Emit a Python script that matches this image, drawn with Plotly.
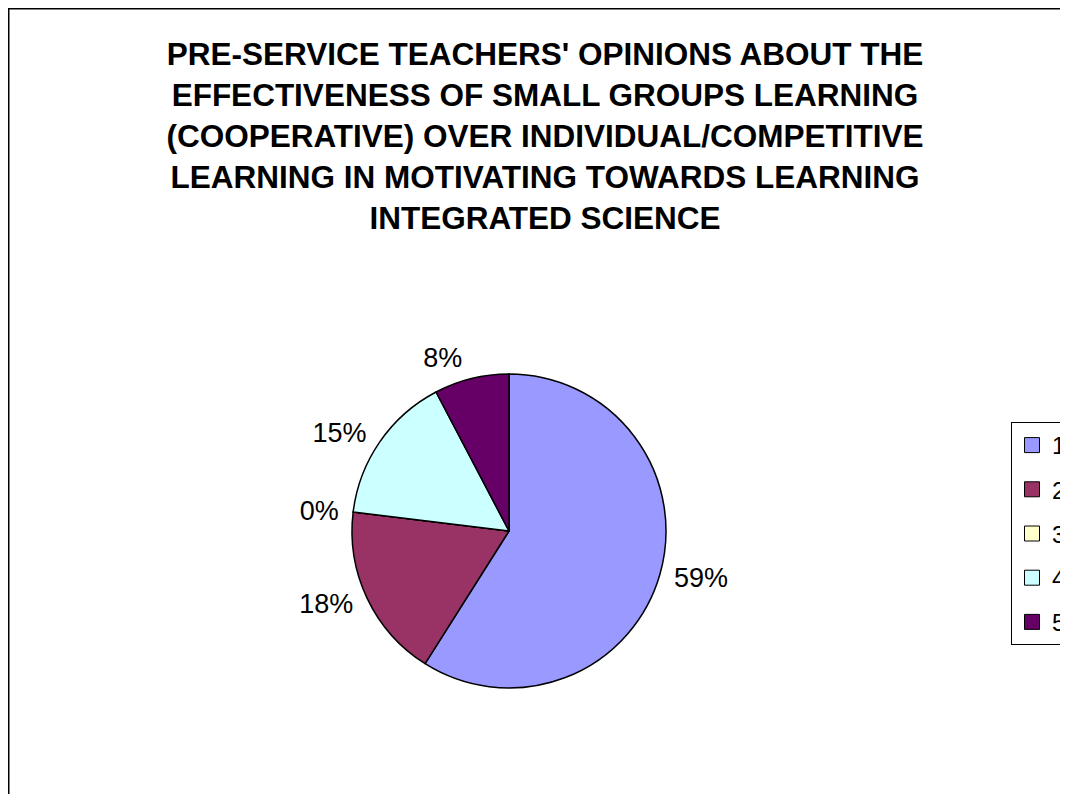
import plotly.graph_objects as go

# Data
categories = ["1", "2", "3", "4", "5"]
values = [23, 7, 0, 6, 3]
colors = ["#9999FF", "#993366", "#FFFFCC", "#CCFFFF", "#660066"]
title_lines = [
    "PRE-SERVICE TEACHERS' OPINIONS ABOUT THE",
    "EFFECTIVENESS OF SMALL GROUPS LEARNING",
    "(COOPERATIVE) OVER INDIVIDUAL/COMPETITIVE",
    "LEARNING IN MOTIVATING TOWARDS LEARNING",
    "INTEGRATED SCIENCE",
]

# page body has an 8px margin, so the figure is 8px smaller than the window
W, H = 1060, 786
FONT = "Arial, 'Liberation Sans', sans-serif"


def dom(cx, cy, r):
    return dict(x=[(cx - r) / W, (cx + r) / W], y=[1 - (cy + r) / H, 1 - (cy - r) / H])


fig = go.Figure()

cx, cy, r = 501, 523, 157
# visible pie
fig.add_trace(go.Pie(
    labels=categories, values=values, sort=False,
    direction="clockwise", rotation=0,
    marker=dict(colors=colors, line=dict(color="black", width=1.5)),
    textinfo="none", showlegend=False,
    hoverinfo="label+percent",
    domain=dom(cx, cy, r),
))
# label carrier (slightly larger, transparent) so percentages sit a bit further out
fig.add_trace(go.Pie(
    labels=categories, values=values, sort=False,
    direction="clockwise", rotation=0,
    marker=dict(colors=["rgba(0,0,0,0)"] * len(values), line=dict(width=0)),
    textposition="outside",
    texttemplate="%{percent:.0%}",
    textfont=dict(family=FONT, size=27, color="black"),
    showlegend=False, hoverinfo="skip",
    domain=dom(cx, cy, r + 7),
))

# Legend entries (square swatches)
for c, lab in zip(colors, categories):
    fig.add_trace(go.Scatter(
        x=[None], y=[None], mode="markers", name=lab, legendgroup=lab,
        marker=dict(symbol="square", size=15, color=c, line=dict(color="black", width=1)),
        showlegend=True,
    ))

fig.update_layout(
    width=W, height=H,
    margin=dict(l=0, r=0, t=0, b=0, autoexpand=False),
    paper_bgcolor="white",
    plot_bgcolor="white",
    font=dict(family=FONT, color="black"),
    title=dict(
        text="<br>".join(title_lines),
        x=537 / W, xanchor="center",
        y=1 - 57 / H, yanchor="top",
        font=dict(family=FONT, size=31.5, color="black", weight="bold"),
    ),
    xaxis=dict(visible=False),
    yaxis=dict(visible=False),
    legend=dict(
        x=1003 / W, xanchor="left",
        y=1 - 414 / H, yanchor="top",
        bordercolor="black", borderwidth=1,
        bgcolor="white",
        font=dict(family=FONT, size=24, color="black"),
        tracegroupgap=10,
        traceorder="grouped",
    ),
    shapes=[dict(
        type="rect", xref="paper", yref="paper",
        x0=0.5 / W, x1=1.05, y0=-0.05, y1=1 - 0.5 / H,
        line=dict(color="black", width=2), fillcolor="rgba(0,0,0,0)", layer="below",
    )],
)

fig.write_html("out.html")
